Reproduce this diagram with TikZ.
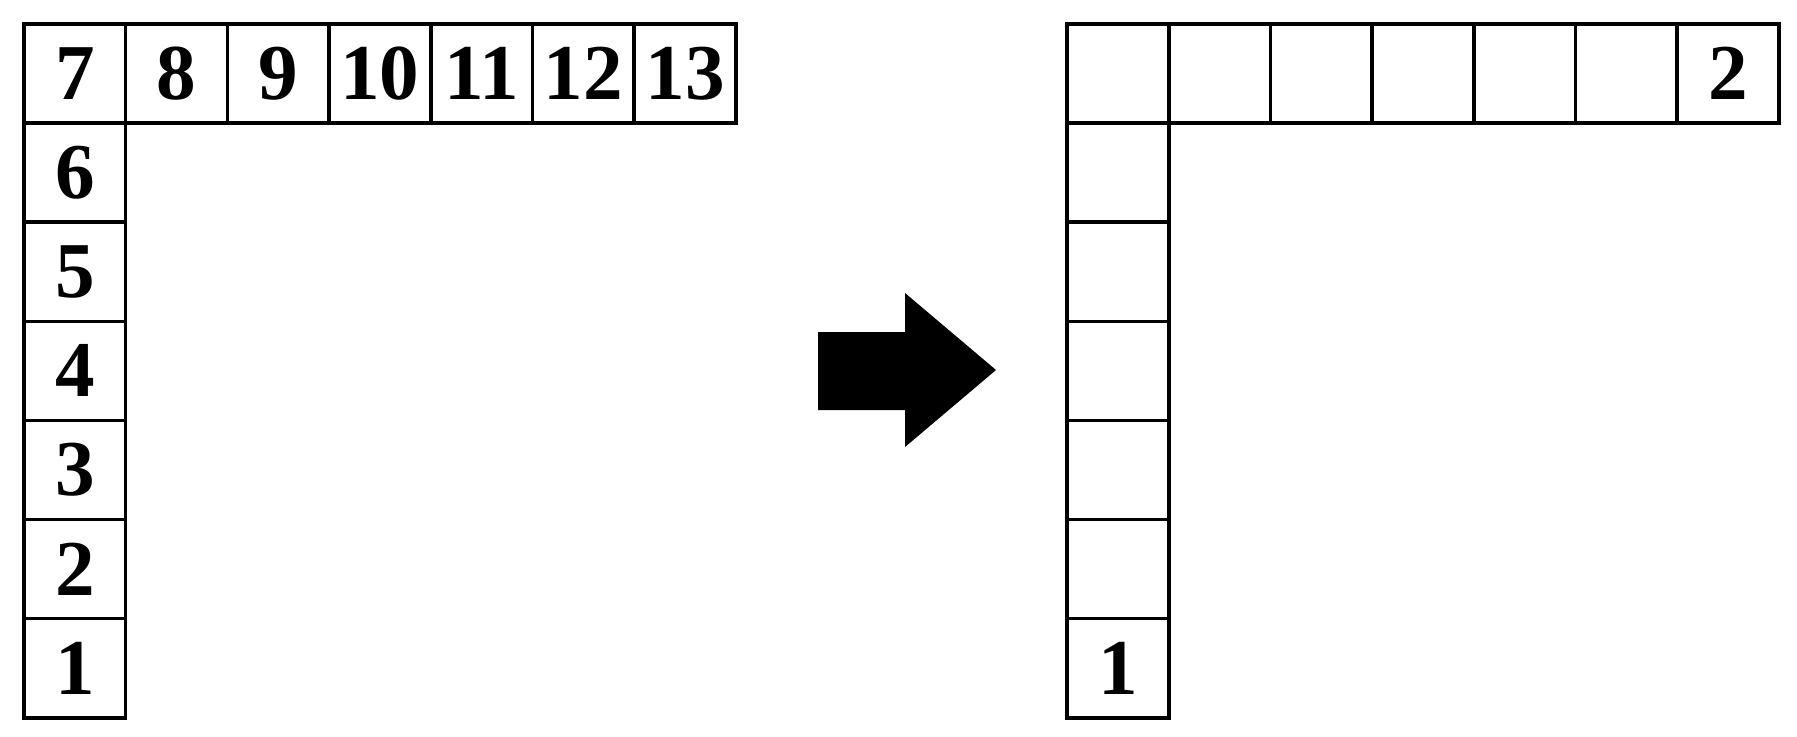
\documentclass[tikz,border=0pt]{standalone}
\usepackage{fontspec}
\setmainfont{Liberation Serif}
\begin{document}
\begin{tikzpicture}[x=0.01cm,y=-0.01cm,
  cell/.style={draw,line width=1pt,minimum width=1.017cm,minimum height=0.991cm,
    inner sep=0pt,font=\fontsize{22.5}{22.5}\selectfont\bfseries}]
  \useasboundingbox (0,0) rectangle (1797,736);

  % Left grid: top row
  \foreach \i [evaluate=\i as \n using int(\i+7)] in {0,...,6}
    \node[cell] (lt\i) at ({74.85+101.7*\i},73.55) {\n};

  % Left grid: column
  \foreach \j [evaluate=\j as \n using int(7-\j)] in {1,...,6}
    \node[cell] (lc\j) at (74.85,{73.55+99.1*\j}) {\n};

  % Right grid: top row
  \foreach \i in {0,...,5}
    \node[cell] (rt\i) at ({1117.85+101.7*\i},73.55) {};
  \node[cell] (rt6) at ({1117.85+101.7*6},73.55) {2};

  % Right grid: column
  \foreach \j in {1,...,5}
    \node[cell] (rc\j) at (1117.85,{73.55+99.1*\j}) {};
  \node[cell] (rc6) at (1117.85,{73.55+99.1*6}) {1};

  % Block arrow
  \fill (818,332) -- (905,332) -- (905,293) -- (996,370) -- (905,447)
    -- (905,410) -- (818,410) -- cycle;
\end{tikzpicture}
\end{document}
